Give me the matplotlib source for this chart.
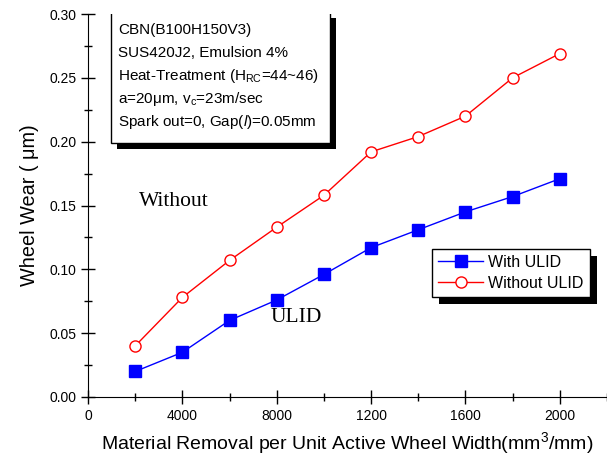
import matplotlib
matplotlib.use("Agg")
import matplotlib.pyplot as plt
from matplotlib.patches import Rectangle
from matplotlib.ticker import MultipleLocator
import matplotlib.patheffects as pe

plt.rcParams['font.family'] = ['Liberation Sans', 'DejaVu Sans']
plt.rcParams['mathtext.fontset'] = 'custom'
plt.rcParams['mathtext.rm'] = 'Liberation Sans'
plt.rcParams['mathtext.it'] = 'Liberation Sans:italic'
plt.rcParams['mathtext.default'] = 'regular'

x_vals = [2000, 4000, 6000, 8000, 10000, 12000, 14000, 16000, 18000, 20000]
with_ulid = [0.020, 0.035, 0.060, 0.076, 0.096, 0.117, 0.131, 0.145, 0.157, 0.171]
without_ulid = [0.040, 0.078, 0.107, 0.133, 0.158, 0.192, 0.204, 0.220, 0.250, 0.269]
xtick_pos = [0, 4000, 8000, 12000, 16000, 20000]
xtick_labels = ["0", "4000", "8000", "1200", "1600", "2000"]
ytick_pos = [0.00, 0.05, 0.10, 0.15, 0.20, 0.25, 0.30]
ytick_labels = ["0.00", "0.05", "0.10", "0.15", "0.20", "0.25", "0.30"]
info_lines = ["CBN(B100H150V3)", "SUS420J2, Emulsion 4%",
              "Heat-Treatment (H$_{RC}$=44~46)", "a=20\u03bcm, v$_c$=23m/sec",
              "Spark out=0, Gap($\\mathit{l}$)=0.05mm"]

W, H = 607, 459
fig = plt.figure(figsize=(W/100, H/100), dpi=100)
L, R, B, T = 88, 607, 397, 14
ax = fig.add_axes([L/W, 1-B/H, (R-L)/W, (B-T)/H])
ax.set_xlim(0, 22000)
ax.set_ylim(0, 0.30)
for s in ['top', 'right']:
    ax.spines[s].set_visible(False)

ax.plot(x_vals, with_ulid, color='blue', lw=1, marker='s', ms=8.5,
        mfc='blue', mec='blue', label='With ULID')
ax.plot(x_vals, without_ulid, color='red', lw=1, marker='o', ms=8,
        mfc='white', mec='red', mew=1, label='Without ULID')

ax.set_xticks(xtick_pos)
ax.set_xticklabels(xtick_labels)
ax.set_yticks(ytick_pos)
ax.set_yticklabels(ytick_labels)
ax.xaxis.set_minor_locator(MultipleLocator(2000))
ax.yaxis.set_minor_locator(MultipleLocator(0.025))
ax.tick_params(which='major', direction='inout', length=10, width=1, labelsize=10)
ax.tick_params(which='minor', direction='inout', length=6, width=1)

ax.set_xlabel("Material Removal per Unit Active Wheel Width(mm$^3$/mm)", fontsize=14, labelpad=5)
ax.set_ylabel("Wheel Wear ( \u03bcm)", fontsize=14.3, labelpad=7)

def axc(px, py):
    return ((px - L)/(R - L), (B - py)/(B - T))

# info box
x0, y0 = axc(111, 143)
x1, y1 = axc(330, 12)
rect = Rectangle((x0, y0), x1-x0, y1-y0, transform=ax.transAxes, fc='white',
                 ec='black', lw=1, zorder=5)
rect.set_path_effects([pe.SimplePatchShadow(offset=(4, -4), shadow_rgbFace='black', alpha=1),
                       pe.Normal()])
ax.add_patch(rect)
for i, line in enumerate(info_lines):
    tx, ty = axc(118, 30 + i*23)
    ax.text(tx, ty, line, transform=ax.transAxes, fontsize=11, va='center',
            ha='left', zorder=6)

ax.text(2150, 0.153, "Without", family='Liberation Serif', fontsize=15.5, va='center', ha='left')
ax.text(7750, 0.062, "ULID", family='Liberation Serif', fontsize=15.5, va='center', ha='left')

lx, ly = axc(432, 297)
leg = ax.legend(loc='lower left', bbox_to_anchor=(lx, ly), fontsize=11.5, frameon=True,
                fancybox=False, edgecolor='black', framealpha=1, handlelength=2.8,
                borderaxespad=0, handletextpad=0.3, labelspacing=0.35, borderpad=0.4)
leg.get_frame().set_linewidth(1)
leg.get_frame().set_path_effects([pe.SimplePatchShadow(offset=(5, -5), shadow_rgbFace='black', alpha=1),
                                  pe.Normal()])

fig.savefig("out.png", dpi=100)
